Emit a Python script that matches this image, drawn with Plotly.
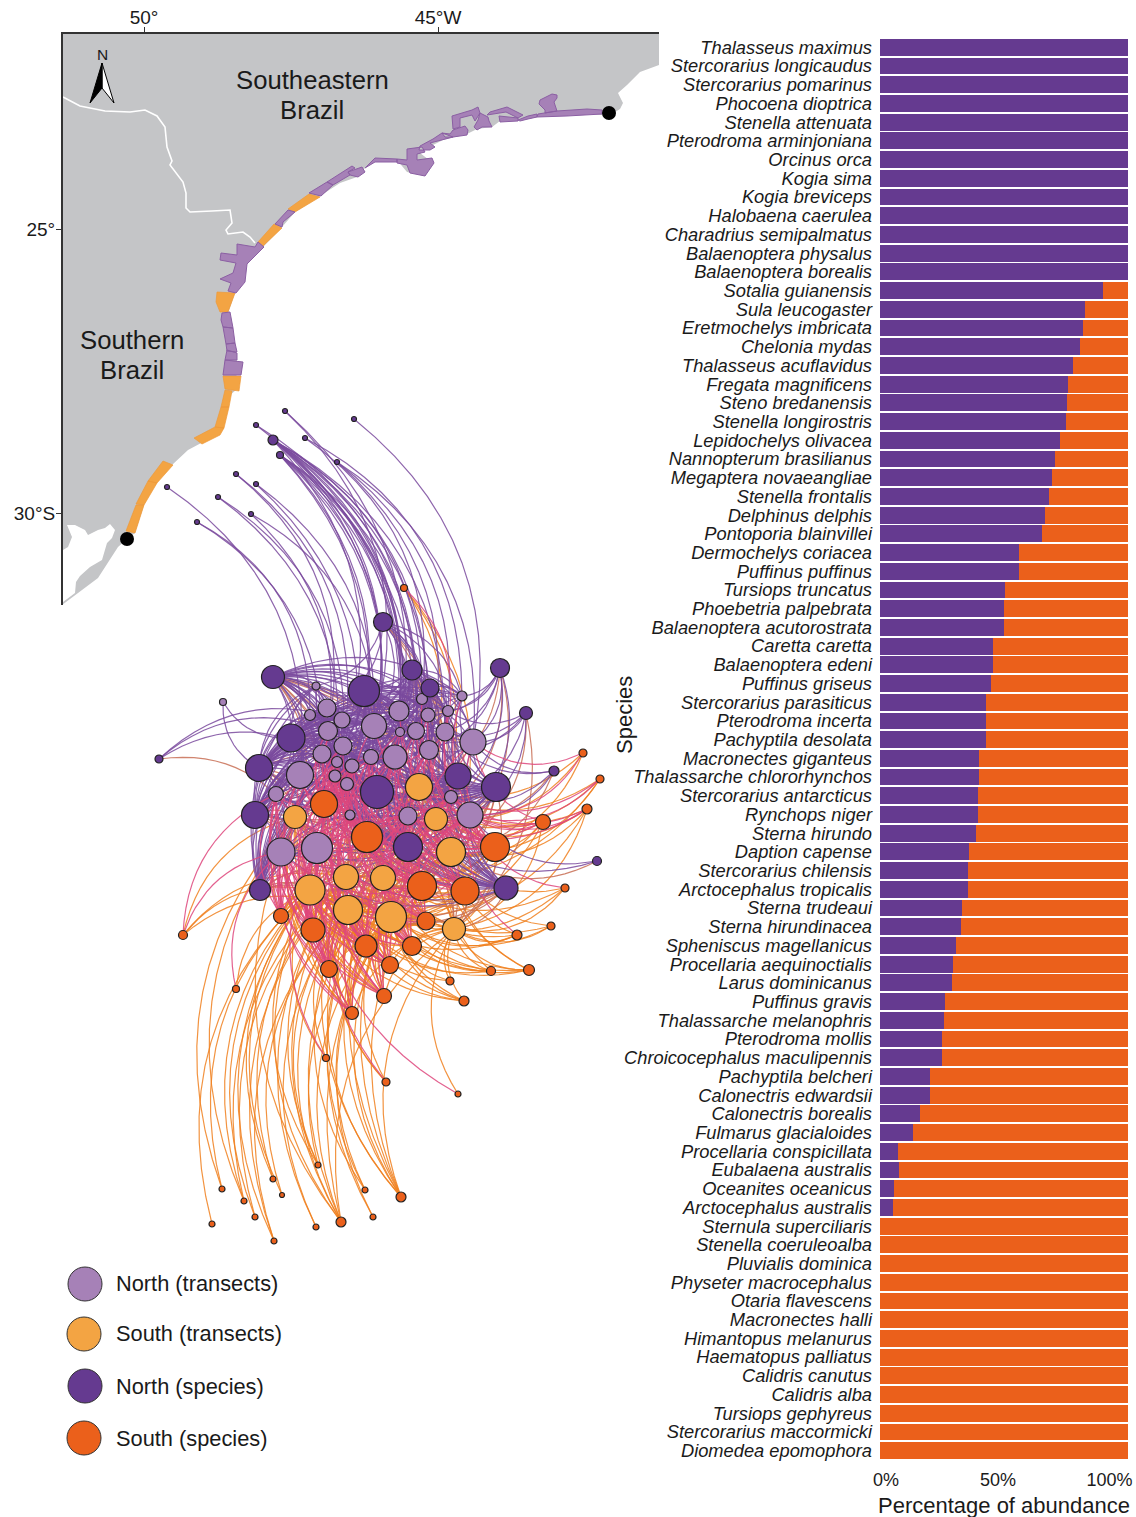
import math
import plotly.graph_objects as go

# ---------- bar chart data ----------
species = ["Thalasseus maximus","Stercorarius longicaudus","Stercorarius pomarinus","Phocoena dioptrica","Stenella attenuata","Pterodroma arminjoniana","Orcinus orca","Kogia sima","Kogia breviceps","Halobaena caerulea","Charadrius semipalmatus","Balaenoptera physalus","Balaenoptera borealis","Sotalia guianensis","Sula leucogaster","Eretmochelys imbricata","Chelonia mydas","Thalasseus acuflavidus","Fregata magnificens","Steno bredanensis","Stenella longirostris","Lepidochelys olivacea","Nannopterum brasilianus","Megaptera novaeangliae","Stenella frontalis","Delphinus delphis","Pontoporia blainvillei","Dermochelys coriacea","Puffinus puffinus","Tursiops truncatus","Phoebetria palpebrata","Balaenoptera acutorostrata","Caretta caretta","Balaenoptera edeni","Puffinus griseus","Stercorarius parasiticus","Pterodroma incerta","Pachyptila desolata","Macronectes giganteus","Thalassarche chlororhynchos","Stercorarius antarcticus","Rynchops niger","Sterna hirundo","Daption capense","Stercorarius chilensis","Arctocephalus tropicalis","Sterna trudeaui","Sterna hirundinacea","Spheniscus magellanicus","Procellaria aequinoctialis","Larus dominicanus","Puffinus gravis","Thalassarche melanophris","Pterodroma mollis","Chroicocephalus maculipennis","Pachyptila belcheri","Calonectris edwardsii","Calonectris borealis","Fulmarus glacialoides","Procellaria conspicillata","Eubalaena australis","Oceanites oceanicus","Arctocephalus australis","Sternula superciliaris","Stenella coeruleoalba","Pluvialis dominica","Physeter macrocephalus","Otaria flavescens","Macronectes halli","Himantopus melanurus","Haematopus palliatus","Calidris canutus","Calidris alba","Tursiops gephyreus","Stercorarius maccormicki","Diomedea epomophora"]
north_pct = [100]*13 + [90,82.7,82,80.6,78,76,75.4,75,72.6,70.6,69.4,68,66.5,65.3,56,56,50.4,50,50,45.6,45.6,44.8,42.7,42.7,42.7,40,40,39.5,39.5,38.7,35.9,35.5,35.5,33,32.7,30.6,29.4,29,26.2,25.8,25,25,20.2,20.2,16,13.3,7.3,7.7,5.6,5.2] + [0]*13
south_pct = [100 - v for v in north_pct]
pct_ticks = [2.4, 47.6, 92.5]
pct_labels = ["0%", "50%", "100%"]

# ---------- network data (layout coordinates) ----------
nt_x = [223,316,310,327,342,328,374,399,422,428,448,462,416,400,445,473,429,395,371,343,322,337,352,335,347,300,276,350,408,451,470,281,317]
nt_y = [702,686,715,708,720,731,726,711,699,715,711,696,731,732,732,742,750,757,757,746,754,762,766,776,784,775,794,815,816,797,815,852,848]
nt_d = [7,8,11,18,16,19,25,20,11,14,11,10,17,9,18,26,19,24,15,18,18,11,14,12,13,27,15,10,18,13,26,28,31]
st_x = [419,295,436,451,346,383,310,348,391,454]
st_y = [787,817,819,852,877,878,890,910,917,929]
st_d = [27,23,23,29,25,25,30,29,31,23]

# links: list = transect ids; tuple = (n north, n south) closest transects
ns_x = [285,354,256,273,305,280,337,236,256,167,218,251,197,159,554,597,526,500,383,273,412,430,364,291,259,458,496,377,255,408,260,506]
ns_y = [411,419,425,440,438,455,462,474,484,487,497,514,522,759,771,861,713,668,622,677,670,688,691,738,768,776,787,792,815,847,890,888]
ns_d = [5,5,5,10,5,7,5,5,5,5,5,5,5,8,10,9,13,19,19,23,20,18,31,28,27,26,29,33,27,29,21,24]
ns_links = [[17,6],[15],[12,17],[6,7,8,9,12,13,14,16,17,18,19,28],[8,11],[6,7,12,13,17,18,22,24],[14,16,15],[5,19],[18,24],[25],[19,23],[20,6],[2,20],
            [4,5,20,34],[15,29,30,14,35,36],[28,30,36],[15,14,10,30,16,29,36,42],[11,10,14,15,9,16,30,29,33,36,35],[1,3,6,7,8,9,11,10,13,33,35,16],
            (28,8),(26,8),(24,6),(32,10),(32,6),(32,6),(32,9),(32,10),(32,10),(32,8),(32,10),(28,6),(28,10)]
# transect 0 is reached by only two species
lone_transect = 0
lone_transect_species = [23, 24]
ss_x = [324,367,495,422,465,426,281,313,366,412,329,390,384,352,404,183,236,583,600,587,543,565,551,517,491,529,450,464,326,386,458,318,273,222,365,282,244,401,255,373,212,341,316,274]
ss_y = [804,837,847,886,891,921,916,930,946,946,969,965,996,1013,588,935,989,753,779,809,822,888,926,935,971,970,981,1001,1058,1082,1094,1165,1179,1189,1190,1195,1201,1197,1217,1217,1224,1222,1227,1241]
ss_d = [27,31,29,29,28,18,15,24,22,19,17,17,15,13,7,9,7,8,8,10,15,8,8,10,9,11,8,10,7,8,6,6,6,6,6,5,6,10,6,6,6,10,6,6]
ss_links = [(16,10),(20,10),(20,10),(20,10),(16,10),(12,10),(9,9),(14,10),(14,10),(12,10),(12,10),(10,10),(9,10),(7,10),
            [35,36,33,14],[34,39,37,40,31,26],[31,39],[30,15,35,36,33],[30,29,35,36,33,38],[30,29,28,35,36,33,42,41],[30,29,15,35,36,42,33,41,38,28],
            [36,42,41,30,38],[42,41,36,38],[42,41,36,30,38,40],[42,41,38,40,36,37],[42,41,36,38,40,37,35],[41,40,42],[41,40,42,38,37,39],
            [40,39,32],[40,41,27,37],[32,42],[37,39,40,41],[39,37],[34,39],[40,41,38],[39,40],[39,34,37],[37,38,40,41,42,36,35,33],[39,37],[41,38],[39],[39,37,40,41,38,36,42,34],[40,37],[39,40,37]]

# ---------- map data: outlines ----------
land_xy = [(62,33),(659,33),(659,65),(640,72),(627,85),(618,93),(623,103),(620,109),(609,116),(587,113),(567,115),(538,117),(523,120),(500,121),(492,127),(477,129),(467,134),(452,138),(443,140),(433,145),(420,153),(433,163),(425,176),(407,172),(397,160),(375,160),(365,168),(357,177),(340,183),(320,196),(295,212),(282,227),(265,245),(247,264),(235,293),(228,313),(231,330),(234,345),(237,362),(236,390),(230,395),(228,410),(223,427),(220,433),(202,443),(188,450),(172,465),(155,483),(144,505),(135,533),(127,539),(118,547),(98,578),(62,605)]
lagoon_xy = [(67,525),(75,525),(85,530),(88,535),(98,530),(105,528),(110,524),(115,530),(112,538),(107,543),(102,560),(90,567),(80,576),(76,582),(75,593),(63,602),(63,550),(68,547),(72,537)]
border_xy = [(63,97),(80,106),(105,111),(130,112),(145,110),(157,116),(165,127),(167,147),(172,161),(170,165),(183,182),(186,193),(186,208),(190,212),(212,211),(230,210),(232,223),(226,230),(228,234),(243,232),(250,237),(255,243)]
north_zones = [
 [(602,110),(587,109),(557,111),(538,114),(537,117),(567,116),(602,114)],
 [(557,95),(552,94),(540,100),(539,104),(545,110),(545,113),(557,111),(554,102),(557,98)],
 [(537,114),(528,116),(518,120),(520,121),(528,119),(537,117)],
 [(523,115),(507,107),(490,112),(487,115),(506,112),(518,118)],
 [(499,116),(518,118),(518,121),(500,122)],
 [(488,117),(480,113),(478,120),(474,127),(477,130),(482,127),(492,127),(489,121)],
 [(452,116),(472,110),(478,107),(480,113),(475,121),(472,115),(460,118),(460,127),(453,129)],
 [(453,130),(465,126),(468,130),(467,135),(453,137),(445,137),(442,133),(450,134)],
 [(442,133),(433,139),(420,146),(419,150),(430,150),(435,147),(430,143),(443,140),(453,137)],
 [(407,149),(422,147),(425,152),(417,154),(417,160),(432,158),(434,163),(425,176),(410,173),(407,165),(397,163),(397,159),(407,160)],
 [(397,159),(375,158),(365,168),(375,162),(397,162)],
 [(327,182),(352,166),(355,168),(348,172),(350,175),(333,185)],
 [(348,172),(362,167),(365,172),(358,177),(350,175)],
 [(327,182),(333,185),(321,196),(309,193)],
 [(288,210),(295,212),(283,222),(282,227),(275,224)],
 [(258,242),(264,247),(247,264),(245,282),(236,293),(228,291),(231,283),(220,279),(233,273),(236,263),(220,260),(221,253),(237,255),(237,244),(255,247)],
 [(222,313),(230,312),(233,328),(223,327),(221,320)],
 [(223,327),(233,328),(235,343),(226,344)],
 [(226,344),(235,343),(237,352),(227,351)],
 [(227,350),(237,353),(237,360),(225,360)],
 [(225,360),(243,362),(241,375),(223,375)],
]
south_zones = [
 [(309,194),(320,197),(295,212),(288,209)],
 [(274,224),(282,228),(263,246),(258,242)],
 [(217,292),(235,293),(228,312),(220,312),(216,302)],
 [(223,376),(241,376),(239,391),(225,389)],
 [(225,390),(232,391),(229,407),(221,407)],
 [(221,407),(229,407),(224,428),(215,427)],
 [(215,427),(224,428),(220,435),(202,444),(194,438)],
 [(163,461),(173,465),(157,483),(148,481)],
 [(148,481),(157,483),(144,505),(136,504)],
 [(136,505),(144,505),(135,533),(126,531)],
]
end_dots_xy = [(609,113),(127,539)]
map_lon_ticks = [-50,-45]
map_lon_labels = ["50°","45°W"]
map_lat_ticks = [-25,-30]
map_lat_labels = ["25°","30°S"]
legend_labels = ["North (transects)","South (transects)","North (species)","South (species)"]

# ---------- styles ----------
W, H = 1136, 1517
FONT = "Liberation Sans"
INK = "#1a1a1a"
C_NT, C_ST, C_NS, C_SS = "#A681B7", "#F3A443", "#653A90", "#EB601B"
E_NN, E_SS, E_SN, E_NS = "rgba(122,74,158,0.85)", "rgba(240,128,30,0.85)", "rgba(222,70,125,0.85)", "rgba(200,110,85,0.85)"
MAP_L, MAP_R, MAP_T, MAP_B = 62.8, 659, 33.8, 605

def lonlat(pts):
    return [-50 + (x - 144) / 58.8 for x, y in pts], [-25 - (y - 229) / 56.8 for x, y in pts]

def multi(polys):
    xs, ys = [], []
    for p in polys:
        a, b = lonlat(p + [p[0]])
        xs += a + [None]
        ys += b + [None]
    return xs, ys

fig = go.Figure()
# --- map (first subplot, bottom layer)
lx, ly = multi([land_xy])
fig.add_trace(go.Scatter(x=lx, y=ly, mode="lines", fill="toself", fillcolor="#C4C5C7", line=dict(width=0), hoverinfo="skip"))
lx, ly = multi([lagoon_xy])
fig.add_trace(go.Scatter(x=lx, y=ly, mode="lines", fill="toself", fillcolor="white", line=dict(width=0), hoverinfo="skip"))
bx, by = lonlat(border_xy)
fig.add_trace(go.Scatter(x=bx, y=by, mode="lines", line=dict(color="white", width=1.6), hoverinfo="skip"))
lx, ly = multi(south_zones)
fig.add_trace(go.Scatter(x=lx, y=ly, mode="lines", fill="toself", fillcolor=C_ST, line=dict(color="#EE9A3A", width=0.7), hoverinfo="skip"))
lx, ly = multi(north_zones)
fig.add_trace(go.Scatter(x=lx, y=ly, mode="lines", fill="toself", fillcolor=C_NT, line=dict(color="#8B5FA3", width=1), hoverinfo="skip"))
dx, dy = lonlat(end_dots_xy)
fig.add_trace(go.Scatter(x=dx, y=dy, mode="markers", marker=dict(color="black", size=14), hoverinfo="skip"))

# --- bars
fig.add_trace(go.Bar(y=species, x=north_pct, orientation="h", name="North", marker=dict(color=C_NS, line=dict(width=0)), xaxis="x2", yaxis="y2"))
fig.add_trace(go.Bar(y=species, x=south_pct, orientation="h", name="South", marker=dict(color=C_SS, line=dict(width=0)), xaxis="x2", yaxis="y2"))

# --- network edges
tx = nt_x + st_x
ty = nt_y + st_y
N_NORTH = len(nt_x)

def targets(sx, sy, link):
    if isinstance(link, list):
        return link
    n, s = link
    pool = [i for i in range(N_NORTH) if i != lone_transect]
    near_n = sorted(pool, key=lambda i: math.hypot(tx[i] - sx, ty[i] - sy))[:n]
    near_s = sorted(range(N_NORTH, len(tx)), key=lambda i: math.hypot(tx[i] - sx, ty[i] - sy))[:s]
    return near_n + near_s

def arc(x0, y0, x1, y1, sag=0.3):
    dx_, dy_ = x1 - x0, y1 - y0
    cx, cy = (x0 + x1) / 2 + sag * dy_, (y0 + y1) / 2 - sag * dx_
    xs, ys = [], []
    for k in range(15):
        t = k / 14
        xs.append((1 - t) ** 2 * x0 + 2 * t * (1 - t) * cx + t ** 2 * x1)
        ys.append((1 - t) ** 2 * y0 + 2 * t * (1 - t) * cy + t ** 2 * y1)
    return xs + [None], ys + [None]

edges = {"ss": ([], []), "ns": ([], []), "nn": ([], []), "sn": ([], [])}
for X, Y, LINKS, north in ((ns_x, ns_y, ns_links, True), (ss_x, ss_y, ss_links, False)):
    for idx, (sx, sy, link) in enumerate(zip(X, Y, LINKS)):
        tlist = list(targets(sx, sy, link))
        if north and idx in lone_transect_species:
            tlist.append(lone_transect)
        for t in tlist:
            to_north = t < N_NORTH
            key = ("nn" if to_north else "ns") if north else ("sn" if to_north else "ss")
            a, b = arc(sx, sy, tx[t], ty[t])
            edges[key][0].extend(a)
            edges[key][1].extend(b)
for key, col in (("ss", E_SS), ("ns", E_NS), ("nn", E_NN), ("sn", E_SN)):
    fig.add_trace(go.Scatter(x=edges[key][0], y=edges[key][1], mode="lines", line=dict(color=col, width=1.2), xaxis="x3", yaxis="y3", hoverinfo="skip"))

# --- network nodes
for X, Y, D, col in ((nt_x, nt_y, nt_d, C_NT), (st_x, st_y, st_d, C_ST), (ns_x, ns_y, ns_d, C_NS), (ss_x, ss_y, ss_d, C_SS)):
    fig.add_trace(go.Scatter(x=X, y=Y, mode="markers", marker=dict(color=col, size=D, opacity=1, sizemode="diameter", line=dict(color="#222222", width=1.2)), xaxis="x3", yaxis="y3", hoverinfo="skip"))

# --- legend symbols
fig.add_trace(go.Scatter(x=[85,84,85,84], y=[1284,1334,1386,1438], mode="markers",
                         marker=dict(color=[C_NT,C_ST,C_NS,C_SS], size=34, opacity=1, line=dict(color="#333333", width=1)), xaxis="x3", yaxis="y3", hoverinfo="skip"))

# --- north arrow
fig.add_trace(go.Scatter(x=[102,114,102,102], y=[63,103,88,63], mode="lines", fill="toself", fillcolor="white", line=dict(color="black", width=1), xaxis="x3", yaxis="y3", hoverinfo="skip"))
fig.add_trace(go.Scatter(x=[102,90,102,102], y=[63,103,88,63], mode="lines", fill="toself", fillcolor="black", line=dict(color="black", width=1), xaxis="x3", yaxis="y3", hoverinfo="skip"))

def note(x, y, text, size, anchor="center", angle=0):
    return dict(x=x, y=y, xref="x3", yref="y3", text=text, showarrow=False, xanchor=anchor, yanchor="middle", textangle=angle,
                font=dict(family=FONT, size=size, color=INK))

annotations = [
    note(102, 54, "N", 15.5),
    note(312, 80, "Southeastern", 25.7), note(312, 110, "Brazil", 25.7),
    note(132, 340, "Southern", 25.7), note(132, 370, "Brazil", 25.7),
    note(114, 1283, legend_labels[0], 21.8, "left"), note(114, 1333, legend_labels[1], 21.8, "left"),
    note(114, 1386, legend_labels[2], 21.8, "left"), note(114, 1438, legend_labels[3], 21.8, "left"),
    note(1004, 1505, "Percentage of abundance", 22),
    note(624, 715, "Species", 22, "center", -90),
]

fig.update_layout(
    width=W, height=H, autosize=False, margin=dict(l=0, r=0, t=0, b=0, autoexpand=False),
    paper_bgcolor="white", plot_bgcolor="rgba(0,0,0,0)", showlegend=False,
    barmode="stack", bargap=0.1, annotations=annotations,
    font=dict(family=FONT, color=INK),
    xaxis=dict(domain=[MAP_L/W, MAP_R/W], range=[-50 + (MAP_L-144)/58.8, -50 + (MAP_R-144)/58.8], side="top", anchor="y",
               showgrid=False, zeroline=False, showline=True, linecolor="#333333", linewidth=1.6, ticks="outside", ticklen=5, tickcolor="#333333",
               tickvals=map_lon_ticks, ticktext=map_lon_labels, tickfont=dict(size=19, family=FONT, color=INK), ticklabelstandoff=-5),
    yaxis=dict(domain=[1-MAP_B/H, 1-MAP_T/H], range=[-25-(MAP_B-229)/56.8, -25-(MAP_T-229)/56.8], anchor="x",
               showgrid=False, zeroline=False, showline=True, linecolor="#333333", linewidth=1.6, ticks="outside", ticklen=5, tickcolor="#333333",
               tickvals=map_lat_ticks, ticktext=map_lat_labels, tickfont=dict(size=19, family=FONT, color=INK), ticklabelstandoff=-3),
    xaxis2=dict(domain=[880/W, 1128/W], range=[0, 100], anchor="y2", showgrid=False, zeroline=False, showline=False, ticks="",
                tickvals=pct_ticks, ticktext=pct_labels, tickfont=dict(size=18, family=FONT, color=INK), ticklabelstandoff=7),
    yaxis2=dict(domain=[1-1460/H, 1-38/H], type="category", range=[75.5, -0.5], anchor="x2", showgrid=False, zeroline=False, showline=False, ticks="",
                tickmode="array", tickvals=species, ticktext=species, tickfont=dict(size=18.3, family=FONT, color=INK, style="italic"), ticklabelstandoff=7),
    xaxis3=dict(domain=[0, 1], range=[0, W], anchor="y3", visible=False, fixedrange=True),
    yaxis3=dict(domain=[0, 1], range=[H, 0], anchor="x3", visible=False, fixedrange=True),
)

fig.write_html("out.html", config={"displayModeBar": False}, post_script="document.body.style.margin='0';")
